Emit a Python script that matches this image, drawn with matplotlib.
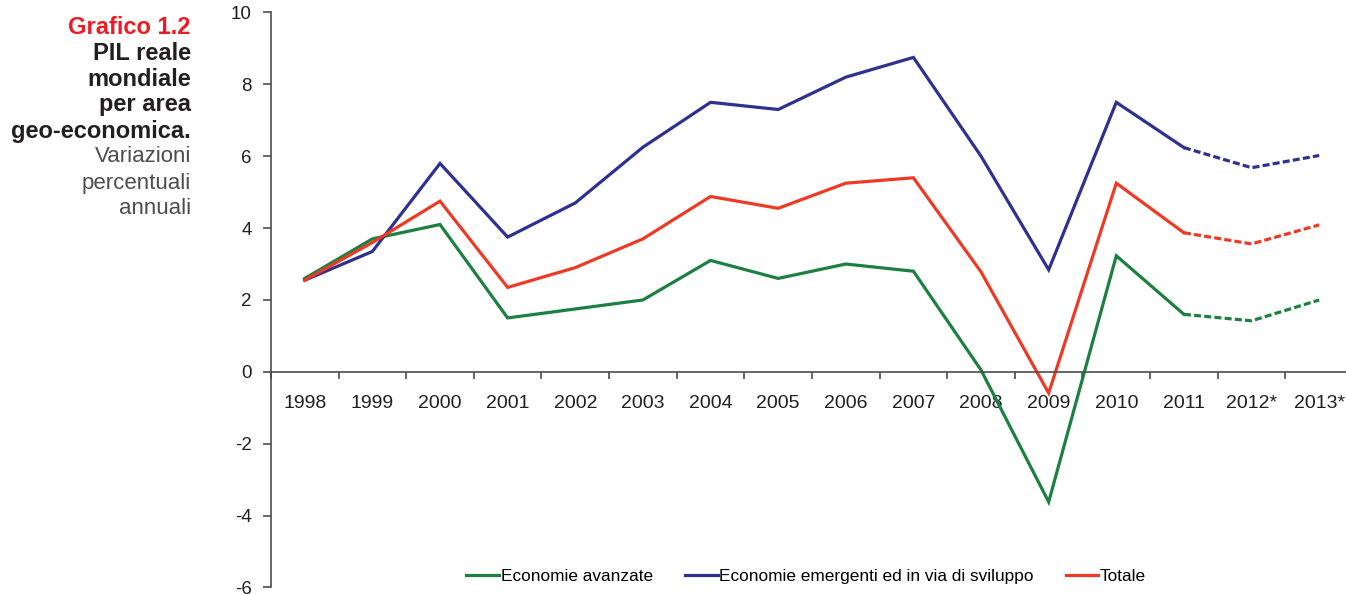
import matplotlib.pyplot as plt
from matplotlib.lines import Line2D

plt.rcParams['font.family'] = ['Liberation Sans', 'DejaVu Sans']

years = ['1998', '1999', '2000', '2001', '2002', '2003', '2004', '2005',
         '2006', '2007', '2008', '2009', '2010', '2011', '2012*', '2013*']
avanzate = [2.6, 3.7, 4.1, 1.5, 1.75, 2.0, 3.1, 2.6, 3.0, 2.8, 0.05, -3.62,
            3.23, 1.6, 1.42, 2.0]
emergenti = [2.55, 3.35, 5.8, 3.75, 4.7, 6.25, 7.5, 7.3, 8.2, 8.75, 6.0, 2.84,
             7.5, 6.24, 5.68, 6.02]
totale = [2.55, 3.6, 4.75, 2.35, 2.9, 3.7, 4.88, 4.55, 5.25, 5.4, 2.78, -0.59,
          5.25, 3.87, 3.56, 4.09]
n_actual = 14  # 2012* and 2013* are forecasts, drawn dashed

series = [
    ('Economie avanzate', avanzate, '#1b8040'),
    ('Economie emergenti ed in via di sviluppo', emergenti, '#2e3192'),
    ('Totale', totale, '#ee3a24'),
]

fig = plt.figure(figsize=(13.46, 5.94), dpi=100)
ax = fig.add_axes([0.2013, 0.011, 0.8039, 0.968])

x = list(range(len(years)))
handles = []
for label, vals, color in series:
    ax.plot(x[:n_actual], vals[:n_actual], color=color, lw=2.3,
            solid_joinstyle='miter')
    ax.plot(x[n_actual - 1:], vals[n_actual - 1:], color=color, lw=2.3,
            ls=(0, (2.2, 1.0)))
    handles.append(Line2D([], [], color=color, lw=2.3, label=label))

ax.set_xlim(-0.5, len(years) - 0.5)
ax.set_ylim(-6, 10)
ax.set_yticks(range(-6, 11, 2))
ax.set_yticklabels([str(v) for v in range(-6, 11, 2)], fontsize=13.5,
                   color='#231f20')

ax.spines['top'].set_visible(False)
ax.spines['right'].set_visible(False)
ax.spines['bottom'].set_position(('data', 0))
for s in ('left', 'bottom'):
    ax.spines[s].set_color('#4d4d4d')
    ax.spines[s].set_linewidth(1.2)

ax.set_xticks(x)
ax.set_xticklabels(years, fontsize=14, color='#231f20')
ax.set_xticks([i - 0.5 for i in range(len(years) + 1)], minor=True)
ax.tick_params(axis='x', which='major', length=0, pad=16.5)
ax.tick_params(axis='x', which='minor', length=5, width=1.2,
               color='#4d4d4d', direction='out')
ax.tick_params(axis='y', length=6, width=1.2, color='#4d4d4d', pad=8)

fig.legend(handles=handles, loc='lower center', ncol=3, frameon=False,
           fontsize=12.4, handlelength=1.9, handletextpad=0.1,
           columnspacing=1.85, bbox_to_anchor=(0.599, -0.01))

title_lines = [
    ('Grafico 1.2', 'bold', '#ed1c24', 17),
    ('PIL reale', 'bold', '#231f20', 17),
    ('mondiale', 'bold', '#231f20', 17),
    ('per area', 'bold', '#231f20', 17),
    ('geo-economica.', 'bold', '#231f20', 17),
    ('Variazioni', 'normal', '#4d4d4d', 16),
    ('percentuali', 'normal', '#4d4d4d', 16),
    ('annuali', 'normal', '#4d4d4d', 16),
]
for i, (txt, weight, color, size) in enumerate(title_lines):
    fig.text(191 / 1346, 1 - (27 + 26 * i) / 594, txt, ha='right',
             va='center', fontsize=size, fontweight=weight, color=color)

fig.savefig('out.png', dpi=100)
